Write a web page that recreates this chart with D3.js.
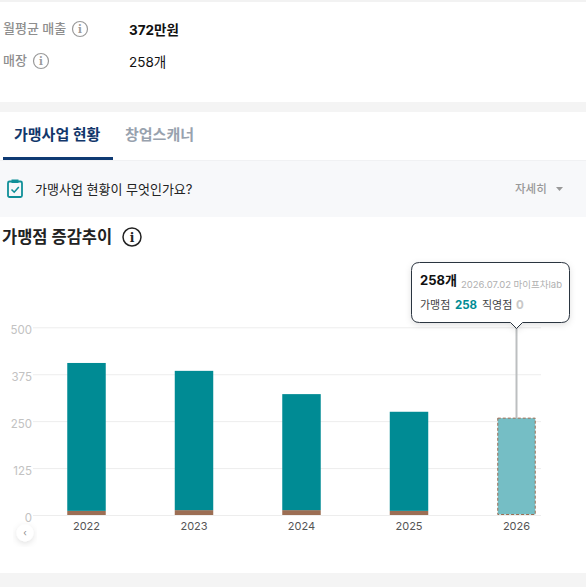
<!DOCTYPE html>
<html lang="ko">
<head>
<meta charset="utf-8">
<script src="https://cdn.jsdelivr.net/npm/d3@7"></script>
<style>
  html, body { margin: 0; padding: 0; background: #fff; overflow: hidden; }
  svg { display: block; }
  text { font-family: Inter, "Noto Sans CJK KR", sans-serif; }
</style>
</head>
<body>
<div id="graph"></div>
<script>
const years = ["2022", "2023", "2024", "2025", "2026"];
const franchise = [394, 371, 309, 264, 258];
const direct = [11, 13, 13, 11, 0];
const yTicks = [0, 125, 250, 375, 500];

const teal = "#008b94";
const brown = "#9c6e54";
const paleTeal = "#75bec5";

const svg = d3.select("#graph")
  .append("svg")
  .attr("width", 586)
  .attr("height", 587)
  .attr("viewBox", "0 0 586 587");

const defs = svg.append("defs");
const shadow = defs.append("filter").attr("id", "shadow")
  .attr("x", "-20%").attr("y", "-20%").attr("width", "140%").attr("height", "150%");
shadow.append("feDropShadow")
  .attr("dx", 0).attr("dy", 2).attr("stdDeviation", 3)
  .attr("flood-color", "#000").attr("flood-opacity", 0.12);

function rect(x, y, w, h, fill) {
  return svg.append("rect").attr("x", x).attr("y", y).attr("width", w).attr("height", h).attr("fill", fill);
}

function label(x, y, str, size, fill, weight) {
  return svg.append("text")
    .attr("x", x).attr("y", y)
    .attr("font-size", size)
    .attr("fill", fill)
    .attr("font-weight", weight || 400)
    .text(str);
}

function infoIcon(cx, cy, r, color, sw) {
  svg.append("circle").attr("cx", cx).attr("cy", cy).attr("r", r)
    .attr("fill", "none").attr("stroke", color).attr("stroke-width", sw);
  svg.append("text").attr("x", cx).attr("y", cy + r * 0.5)
    .attr("text-anchor", "middle")
    .attr("font-size", r * 1.35)
    .attr("font-weight", 700)
    .attr("fill", color)
    .style("font-family", "'DejaVu Serif', serif")
    .text("i");
}

// page bands
rect(0, 0, 586, 2, "#f2f2f2");
rect(0, 102, 586, 10, "#f4f4f4");
rect(0, 160, 586, 57, "#f7f8fa");
rect(0, 160, 586, 1, "#f0f1f3");
rect(0, 573, 586, 14, "#f4f4f4");

// summary rows
label(3, 33, "월평균 매출", 13, "#8e8e8e", 500);
infoIcon(80, 29, 7.5, "#9a9a9a", 1.2);
label(129, 35, "372만원", 13.5, "#111", 700);
label(3, 65, "매장", 13, "#8e8e8e", 500);
infoIcon(41, 61, 7.5, "#9a9a9a", 1.2);
label(129, 67, "258개", 13.5, "#111", 400);

// tabs
label(14, 140, "가맹사업 현황", 15, "#12376b", 700);
label(125, 140, "창업스캐너", 15, "#98a2ae", 700);
rect(3, 157, 110, 3, "#0f3a73");

// help row
svg.append("rect").attr("x", 8).attr("y", 181.5).attr("width", 14).attr("height", 15.5).attr("rx", 1.5)
  .attr("fill", "none").attr("stroke", "#0f8f98").attr("stroke-width", 1.8);
rect(11.5, 179.5, 7, 3.5, "#0f8f98");
svg.append("path").attr("d", "M11.5 189.5 L14.2 192.2 L18.8 187")
  .attr("fill", "none").attr("stroke", "#0f8f98").attr("stroke-width", 1.6);
label(35, 194, "가맹사업 현황이 무엇인가요?", 13, "#222", 400);
label(515, 193, "자세히", 11.5, "#999", 500);
svg.append("path").attr("d", "M556 187 L563 187 L559.5 191 Z").attr("fill", "#999");

// chart title
label(2, 243, "가맹점 증감추이", 16.5, "#222", 700);
infoIcon(132, 237, 9, "#222", 1.5);

// chart
const x = d3.scaleBand().domain(years).range([32.75, 570.25]).paddingInner(0.642).paddingOuter(0.321);
const y = d3.scaleLinear().domain([0, 500]).range([515, 327.3]);
const gridRight = 541;

const yAxis = svg.append("g")
  .attr("transform", "translate(33,0)")
  .call(d3.axisLeft(y).tickValues(yTicks).tickSize(-(gridRight - 33)).tickPadding(1));
yAxis.select(".domain").remove();
yAxis.selectAll(".tick line").attr("stroke", "#ededed").attr("stroke-width", 1);
yAxis.selectAll(".tick text")
  .attr("fill", "#c2c2c2")
  .attr("font-size", 11.5)
  .attr("dy", "0.62em")
  .attr("y", -1)
  .style("font-family", "Inter, sans-serif");

const xAxis = svg.append("g")
  .attr("transform", "translate(0,515)")
  .call(d3.axisBottom(x).tickSize(0).tickPadding(7));
xAxis.select(".domain").remove();
xAxis.selectAll(".tick text")
  .attr("fill", "#555")
  .attr("font-size", 11)
  .style("font-family", "Inter, sans-serif");

const lastYear = years[years.length - 1];
const pastYears = years.slice(0, -1);

// direct stores sit under franchise stores
svg.append("g").selectAll("rect")
  .data(pastYears)
  .join("rect")
  .attr("x", d => x(d))
  .attr("width", x.bandwidth())
  .attr("y", d => y(direct[years.indexOf(d)]))
  .attr("height", d => y(0) - y(direct[years.indexOf(d)]))
  .attr("fill", brown);

svg.append("g").selectAll("rect")
  .data(pastYears)
  .join("rect")
  .attr("x", d => x(d))
  .attr("width", x.bandwidth())
  .attr("y", d => { const i = years.indexOf(d); return y(direct[i] + franchise[i]); })
  .attr("height", d => { const i = years.indexOf(d); return y(direct[i]) - y(direct[i] + franchise[i]); })
  .attr("fill", teal);

// current year, hovered look
const lastIdx = years.indexOf(lastYear);
const lastTotal = franchise[lastIdx] + direct[lastIdx];
svg.append("rect")
  .attr("x", x(lastYear) + 0.5)
  .attr("width", x.bandwidth() - 1)
  .attr("y", y(lastTotal))
  .attr("height", y(0) - y(lastTotal) - 0.5)
  .attr("fill", paleTeal)
  .attr("stroke", brown)
  .attr("stroke-width", 1)
  .attr("stroke-dasharray", "3 2");

const cx = x(lastYear) + x.bandwidth() / 2;
svg.append("line")
  .attr("x1", cx).attr("x2", cx)
  .attr("y1", 326).attr("y2", y(lastTotal))
  .attr("stroke", "#bcbfc0").attr("stroke-width", 2);

// tooltip
const tipL = 411.5, tipR = 569.5, tipT = 262.5, tipB = 322.5, r = 8;
svg.append("path")
  .attr("d", `M${tipL + r} ${tipT} H${tipR - r} Q${tipR} ${tipT} ${tipR} ${tipT + r} V${tipB - r} Q${tipR} ${tipB} ${tipR - r} ${tipB}
    H${cx + 6} L${cx} ${tipB + 6} L${cx - 6} ${tipB} H${tipL + r} Q${tipL} ${tipB} ${tipL} ${tipB - r} V${tipT + r} Q${tipL} ${tipT} ${tipL + r} ${tipT} Z`)
  .attr("fill", "#fff")
  .attr("stroke", "#2b3440")
  .attr("stroke-width", 1)
  .attr("filter", "url(#shadow)");

label(420, 285, `${lastTotal}개`, 13, "#111", 700);
label(461, 288, "2026.07.02 마이프차lab", 9.5, "#b0b0b0", 400);
label(420, 309, "가맹점", 11, "#444", 400);
label(455, 309, String(franchise[lastIdx]), 11.5, teal, 700);
label(482, 309, "직영점", 11, "#444", 400);
label(516, 309, String(direct[lastIdx]), 11.5, "#c8c8c8", 700);

// scroll button
svg.append("circle").attr("cx", 25).attr("cy", 533).attr("r", 8.5)
  .attr("fill", "#fff").attr("filter", "url(#shadow)");
label(25, 536, "‹", 9, "#888", 400).attr("text-anchor", "middle");
</script>
</body>
</html>
